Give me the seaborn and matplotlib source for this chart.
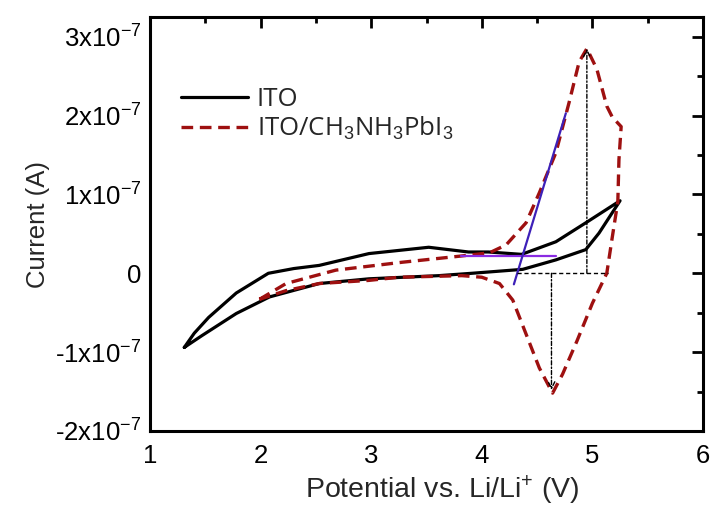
import matplotlib
matplotlib.use("Agg")
import matplotlib.pyplot as plt
import seaborn as sns
import numpy as np
import pandas as pd
from matplotlib.ticker import MultipleLocator, FixedLocator

# ---- data (current in units of 1e-7 A) ----
ito_x = [1.31, 1.40, 1.53, 1.78, 2.07, 2.30, 2.53, 2.98, 3.52, 3.88, 4.06, 4.36, 4.67, 4.94, 5.25,
         5.06, 4.94, 4.67, 4.37, 3.91, 3.61, 2.98, 2.53, 2.08, 1.78, 1.47, 1.31]
ito_y = [-0.94, -0.76, -0.56, -0.25, 0.00, 0.06, 0.10, 0.25, 0.33, 0.27, 0.27, 0.24, 0.40, 0.64, 0.92,
         0.51, 0.30, 0.17, 0.05, 0.00, -0.03, -0.07, -0.13, -0.30, -0.51, -0.79, -0.94]

pvk_x = [1.99, 2.23, 2.68, 3.28, 3.82, 4.07, 4.22, 4.40, 4.52, 4.67, 4.79, 4.88, 4.95, 5.04, 5.13,
         5.18, 5.26, 5.24, 5.23, 5.18, 5.13, 5.00, 4.86, 4.73, 4.64, 4.52, 4.40, 4.28, 4.16, 4.00,
         3.82, 3.25, 2.98, 2.53, 2.23, 1.99]
pvk_y = [-0.33, -0.13, 0.04, 0.14, 0.22, 0.26, 0.36, 0.64, 1.02, 1.53, 2.17, 2.68, 2.85, 2.59, 2.12,
         1.98, 1.86, 1.44, 0.91, 0.46, 0.00, -0.38, -0.86, -1.28, -1.52, -1.20, -0.77, -0.34, -0.13, -0.05,
         -0.03, -0.05, -0.09, -0.13, -0.22, -0.33]

tan_h_x = [3.81, 4.67]
tan_h_y = [0.22, 0.22]
tan_s_x = [4.29, 4.76]
tan_s_y = [-0.14, 2.03]

peak_ox = 4.95
peak_oy = 2.85
peak_rx = 4.63
peak_ry = -1.48
base_x = [4.32, 5.14]

series_labels = ["ITO", "ITO/CH$_3$NH$_3$PbI$_3$"]
yticks = [-2, -1, 0, 1, 2, 3]
ytick_labels = ["-2x10$^{-7}$", "-1x10$^{-7}$", "0", "1x10$^{-7}$", "2x10$^{-7}$", "3x10$^{-7}$"]
xticks = [1, 2, 3, 4, 5, 6]

sns.set_theme(style="white")
plt.rcParams["font.family"] = ["Liberation Sans", "DejaVu Sans"]
plt.rcParams["mathtext.fontset"] = "custom"
plt.rcParams["mathtext.rm"] = "Liberation Sans"
plt.rcParams["mathtext.it"] = "Liberation Sans:italic"

fig = plt.figure(figsize=(7.13, 5.11), dpi=100)
ax = fig.add_axes([150 / 713, 1 - 431 / 511, (703 - 150) / 713, (431 - 17) / 511])

df_ito = pd.DataFrame({"x": ito_x, "y": ito_y})
df_pvk = pd.DataFrame({"x": pvk_x, "y": pvk_y})

sns.lineplot(data=df_ito, x="x", y="y", sort=False, estimator=None, ax=ax,
             color="black", lw=2.3, label=series_labels[0])
sns.lineplot(data=df_pvk, x="x", y="y", sort=False, estimator=None, ax=ax,
             color="#9e1010", lw=2.4, label=series_labels[1])
ax.lines[1].set_dashes([3.5, 2.0])

sns.lineplot(x=tan_h_x, y=tan_h_y, ax=ax, color="#8a2be2", lw=1.6, sort=False, estimator=None)
sns.lineplot(x=tan_s_x, y=tan_s_y, ax=ax, color="#3d20b8", lw=1.6, sort=False, estimator=None)

ax.plot(base_x, [0, 0], color="black", lw=1.0, ls=(0, (3, 2)))
ax.annotate("", xy=(peak_ox, peak_oy), xytext=(peak_ox, 0),
            arrowprops=dict(arrowstyle="->", color="black", lw=1.0, ls=(0, (3, 1.5, 1, 1.5)),
                            shrinkA=0, shrinkB=0))
ax.annotate("", xy=(peak_rx, peak_ry), xytext=(peak_rx, 0),
            arrowprops=dict(arrowstyle="->", color="black", lw=1.0, ls=(0, (3, 1.5, 1, 1.5)),
                            shrinkA=0, shrinkB=0))

ax.set_xlim(1, 6)
ax.set_ylim(-2, 3.25)
ax.xaxis.set_major_locator(FixedLocator(xticks))
ax.xaxis.set_minor_locator(MultipleLocator(0.5))
ax.yaxis.set_major_locator(FixedLocator(yticks))
ax.yaxis.set_minor_locator(MultipleLocator(0.5))
ax.set_yticklabels(ytick_labels)
ax.set_xticklabels([str(t) for t in xticks])

ax.tick_params(which="both", direction="in", top=True, right=True, width=2.0,
               labelsize=18.5, colors="black")
ax.tick_params(which="major", length=8, pad=9)
ax.tick_params(which="minor", length=4.5)
ax.tick_params(axis="y", which="major", pad=6)
for s in ax.spines.values():
    s.set_linewidth(2.2)
    s.set_color("black")

ax.set_xlabel("Potential vs. Li/Li$^{+}$ (V)", fontsize=20.5)
ax.xaxis.set_label_coords(0.528, -0.102)
ax.set_ylabel("Current (A)", fontsize=18.5, labelpad=4)

leg = ax.legend(loc="upper left", bbox_to_anchor=(0.0, 0.905), frameon=False,
                prop={"family": ["Open Sans", "DejaVu Sans"], "size": 18.5},
                handlelength=2.6, handletextpad=0.35, labelspacing=0.12, borderaxespad=0.8)

fig.savefig("out.png", dpi=100)
